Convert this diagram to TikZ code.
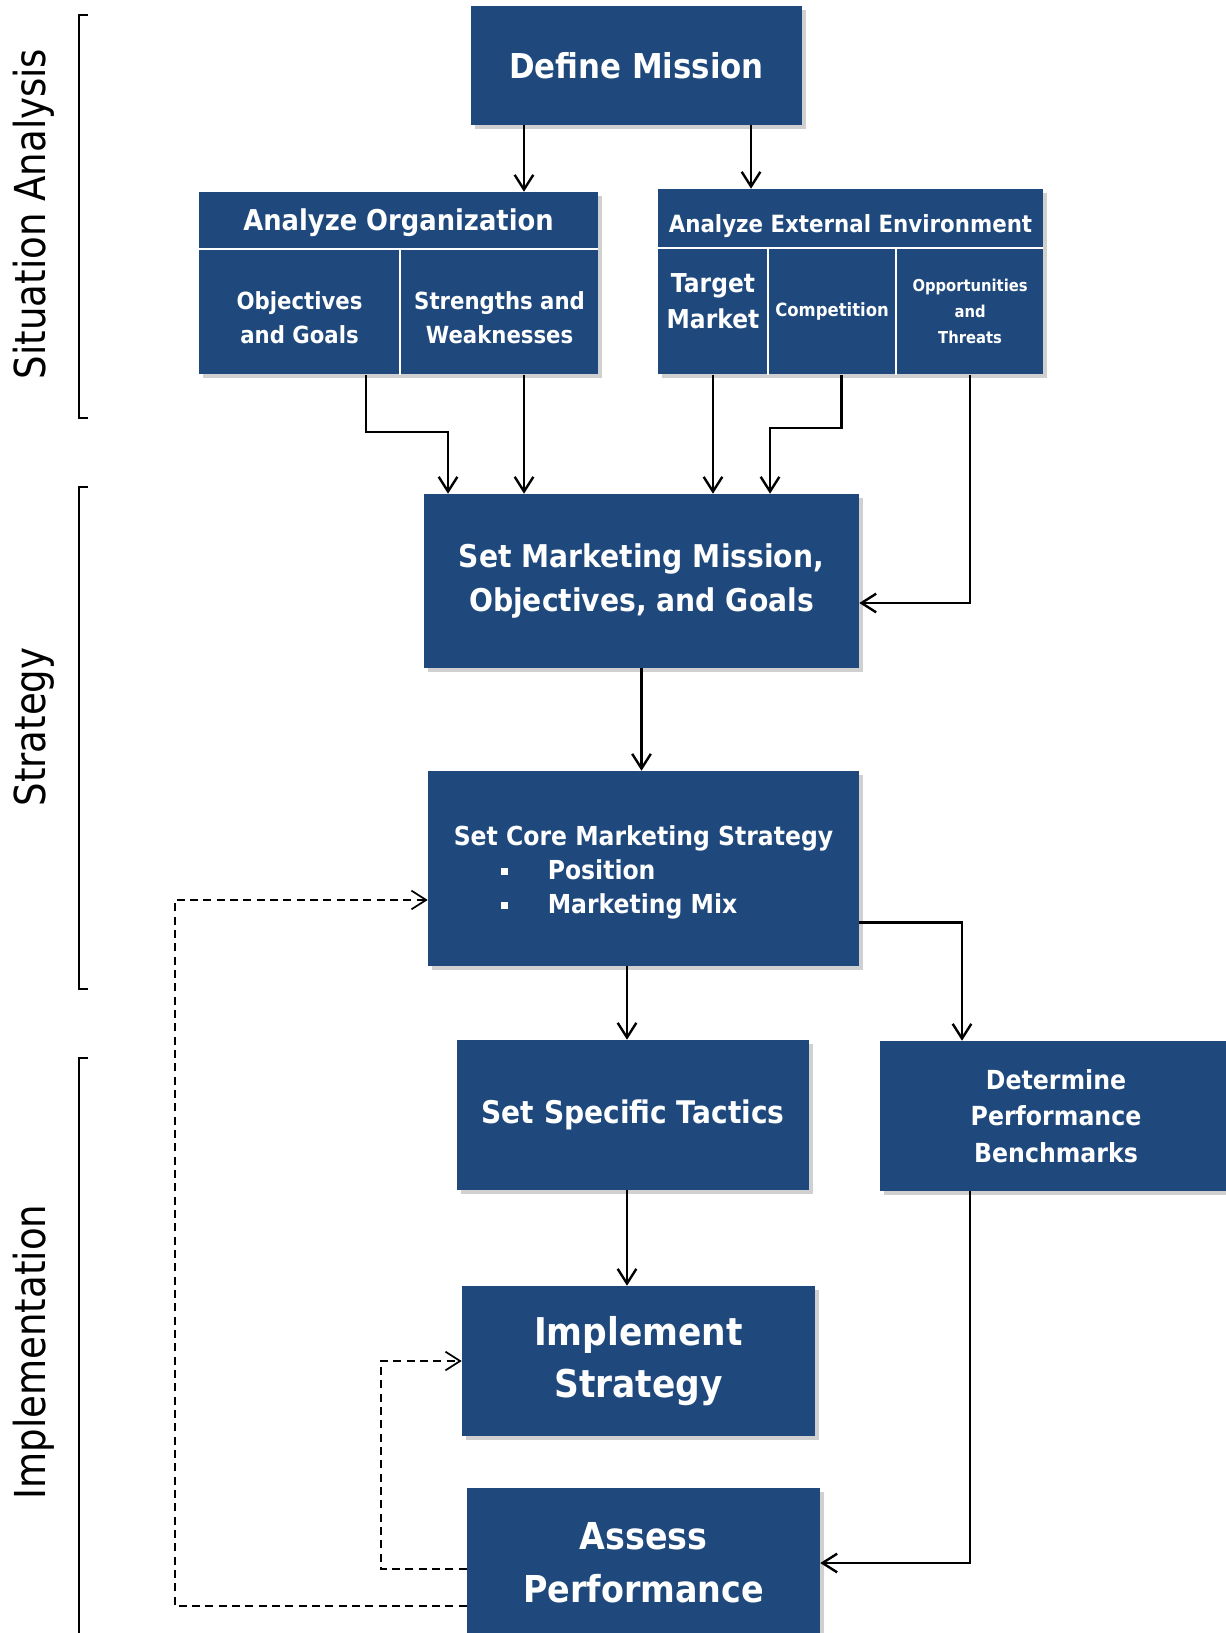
\documentclass[tikz,border=0pt]{standalone}
\usepackage{fontspec}
\usetikzlibrary{arrows.meta, shadows}
\newfontfamily\boxfont[FakeStretch=0.9]{DejaVu Sans}
\newfontfamily\phasefont[FakeStretch=0.87]{DejaVu Sans}
\definecolor{boxblue}{RGB}{31,73,125}
\newcommand\bsize[2]{\fontsize{#1}{#2}\selectfont}

\tikzset{
  stage/.style 2 args={fill=boxblue, minimum width=#1*0.75pt, minimum height=#2*0.75pt,
    inner sep=0pt, drop shadow={shadow xshift=3pt, shadow yshift=-3pt, opacity=.3, fill=black!60}},
  part/.style 2 args={minimum width=#1*0.75pt, minimum height=#2*0.75pt, inner sep=0pt, txt},
  txt/.style={text=white, align=center, font=\boxfont\bfseries},
  divider/.style={draw=white, line width=1.2pt},
  flow/.style={draw, line width=1.8pt, -{Straight Barb[length=11pt, width=14pt]}},
  backflow/.style={flow, line width=1.3pt, dash pattern=on 6pt off 4pt},
  bracket/.style={draw, line width=1.1pt},
  phase/.style={rotate=90, anchor=base, inner sep=0pt, font=\phasefont\bsize{32}{37}}
}

\begin{document}
\begin{tikzpicture}[x=0.75pt, y=-0.75pt]
  \useasboundingbox (0,0) rectangle (1226,1633);
  \fill[white] (0,0) rectangle (1226,1633);

  % phases on the left
  \draw[bracket] (88,15) -- (79,15) -- (79,418) -- (88,418);
  \draw[bracket] (88,487) -- (79,487) -- (79,989) -- (88,989);
  \draw[bracket] (88,1058) -- (79,1058) -- (79,1640);
  \node[phase] (lsit) at (45,214) {Situation Analysis};
  \node[phase] (lstrat) at (45,727) {Strategy};
  \node[phase] (limpl) at (45,1352) {Implementation};

  % situation analysis
  \node[stage={331}{119}, txt, font=\boxfont\bfseries\bsize{25.7}{30}] (mission) at (636.5,65.5) {Define Mission};

  \node[stage={399}{182}] (org) at (398.5,283) {};
  \node[part={399}{57}, anchor=north, font=\boxfont\bfseries\bsize{21.5}{26}] (orghead) at (org.north) {};
  \node[part={201}{125}, anchor=north west] (orgobj) at (orghead.south west) {};
  \node[part={198}{125}, anchor=north west] (orgsw) at (orgobj.north east) {};
  \node[txt, font=\boxfont\bfseries\bsize{21.5}{26}] (orgheadtxt) at ([yshift=-1.5pt]orghead.center) {Analyze Organization};
  \node[txt, font=\boxfont\bfseries\bsize{17.7}{25.5}] (orgobjtxt) at ([yshift=-4.5pt]orgobj.center) {Objectives\\and Goals};
  \node[txt, font=\boxfont\bfseries\bsize{17.7}{25.5}] (orgswtxt) at ([yshift=-4.5pt]orgsw.center) {Strengths and\\Weaknesses};
  \draw[divider] (orghead.south west) -- (orghead.south east);
  \draw[divider] (orgobj.north east) -- (orgobj.south east);

  \node[stage={385}{185}] (ext) at (850.5,281.5) {};
  \node[part={385}{59}, anchor=north] (exthead) at (ext.north) {};
  \node[txt, font=\boxfont\bfseries\bsize{17.8}{22}] (extheadtxt) at ([yshift=-5.5pt]exthead.center) {Analyze External Environment};
  \node[part={110}{126}, anchor=north west] (tgt) at (exthead.south west) {};
  \node[txt, font=\boxfont\bfseries\bsize{19.5}{27}] (tgttxt) at ([yshift=8pt]tgt.center) {Target\\Market};
  \node[part={127}{126}, anchor=north west, font=\boxfont\bfseries\bsize{13.7}{18}] (comp) at (tgt.north east) {Competition};
  \node[part={148}{126}, anchor=north west, font=\boxfont\bfseries\bsize{12.3}{19.5}] (opp) at (comp.north east) {Opportunities\\and\\Threats};
  \draw[divider] (exthead.south west) -- (exthead.south east);
  \draw[divider] (tgt.north east) -- (tgt.south east);
  \draw[divider] (comp.north east) -- (comp.south east);

  % strategy
  \node[stage={435}{174}, txt, font=\boxfont\bfseries\bsize{23.5}{33}] (setmm) at (641.5,581) {Set Marketing Mission,\\Objectives, and Goals};
  \node[stage={431}{195}] (core) at (643.5,868.5) {};
  \node[txt, align=left, font=\boxfont\bfseries\bsize{19.6}{25.5}] (coretxt) at ([yshift=-3pt]core.center)
    {Set Core Marketing Strategy\\
     \hspace*{35.25pt}\rule[3.75pt]{5.25pt}{5.25pt}\hspace{30pt}Position\\
     \hspace*{35.25pt}\rule[3.75pt]{5.25pt}{5.25pt}\hspace{30pt}Marketing Mix};

  % implementation
  \node[stage={352}{150}, txt, font=\boxfont\bfseries\bsize{23.4}{30}] (tactics) at (633,1115) {Set Specific Tactics};
  \node[stage={352}{150}, txt, font=\boxfont\bfseries\bsize{19.7}{27.4}] (bench) at (1056,1116) {Determine\\Performance\\Benchmarks};
  \node[stage={353}{150}, txt, font=\boxfont\bfseries\bsize{28.7}{39}] (impl) at (638.5,1361) {Implement\\Strategy};
  \node[stage={353}{150}, txt, font=\boxfont\bfseries\bsize{27.8}{40}] (assess) at (643.5,1563) {Assess\\Performance};

  % connectors
  \coordinate (o-in) at ([xshift=-84.4pt]mission.south);
  \coordinate (e-in) at ([xshift=85.9pt]mission.south);
  \draw[flow] (o-in) -- (o-in |- org.north);
  \draw[flow] (e-in) -- (e-in |- ext.north);

  \coordinate (m-in1) at ([xshift=-145.1pt]setmm.north);
  \coordinate (m-in2) at ([xshift=-88.1pt]setmm.north);
  \coordinate (m-in3) at ([xshift=53.6pt]setmm.north);
  \coordinate (m-in4) at ([xshift=96.4pt]setmm.north);
  \draw[flow] ([xshift=49.9pt]orgobj.south) -- ++(0,57) -| (m-in1);
  \draw[flow] (m-in2 |- orgsw.south) -- (m-in2);
  \draw[flow] (m-in3 |- tgt.south) -- (m-in3);
  \draw[flow] ([xshift=7.1pt]comp.south) -- ++(0,53) -| (m-in4);
  \draw[flow] (opp.south) |- ([yshift=-16.5pt]setmm.east);

  \draw[flow] (setmm.south) -- (setmm.south |- core.north);
  \coordinate (t-in) at ([xshift=-4.5pt]tactics.north);
  \coordinate (b-in) at ([xshift=-70.5pt]bench.north);
  \draw[flow] (t-in |- core.south) -- (t-in);
  \draw[flow] ([yshift=-40.5pt]core.east) -| (b-in);
  \coordinate (t-out) at ([xshift=-4.5pt]tactics.south);
  \draw[flow] (t-out) -- (t-out |- impl.north);
  \draw[flow] ([xshift=-64.5pt]bench.south) |- (assess.east);

  % feedback
  \draw[backflow] ([yshift=-4.5pt]assess.west) -- ++(-86,0) |- (impl.west);
  \draw[backflow] ([yshift=-32.25pt]assess.west) -- ++(-292,0) |- ([yshift=-23.6pt]core.west);
\end{tikzpicture}
\end{document}
